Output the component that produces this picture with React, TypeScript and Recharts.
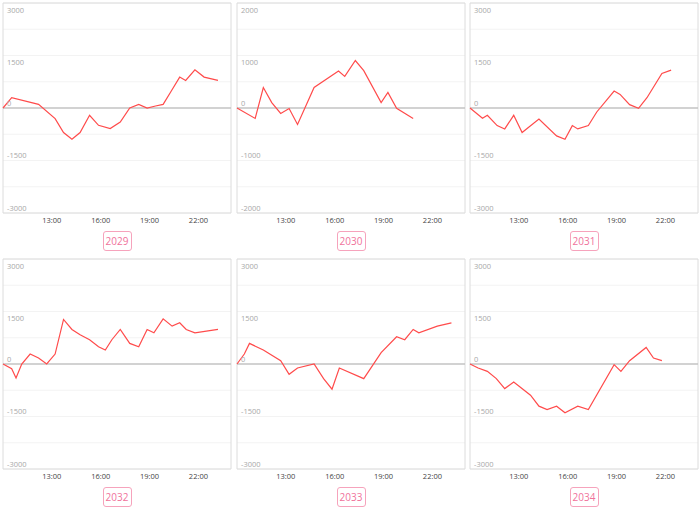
import {
    CartesianGrid,
    Line,
    LineChart,
    ReferenceArea,
    ReferenceLine,
    XAxis,
    YAxis,
} from "recharts";

// readings, one pair of arrays per year
const times2029 = ["10:00", "10:32", "12:11", "13:12", "13:43", "14:14", "14:44", "15:19", "15:52", "16:35", "17:12", "17:47", "18:20", "18:51", "19:22", "19:50", "20:20", "20:51", "21:13", "21:47", "22:21", "23:12"];
const values2029 = [0, 294, 104, -304, -702, -892, -702, -209, -494, -588, -399, 0, 104, 0, 57, 104, 484, 883, 788, 1092, 883, 788];

const times2030 = ["10:00", "11:07", "11:37", "12:08", "12:41", "13:12", "13:43", "14:44", "16:14", "16:37", "17:16", "17:47", "18:51", "19:16", "19:48", "20:49"];
const values2030 = [0, -199, 391, 103, -103, -10, -314, 391, 705, 603, 904, 711, 103, 295, -6, -199];

const times2031 = ["10:00", "10:46", "11:04", "11:40", "12:08", "12:41", "13:12", "14:14", "15:19", "15:50", "16:17", "16:37", "17:16", "17:47", "18:51", "19:13", "19:48", "20:21", "20:52", "21:47", "22:21"];
const values2031 = [0, -294, -209, -503, -598, -209, -702, -313, -797, -892, -503, -598, -503, -114, 484, 389, 95, -9, 294, 987, 1082];

const times2032 = ["10:00", "10:32", "10:48", "11:09", "11:40", "12:11", "12:41", "13:12", "13:43", "14:14", "14:44", "15:19", "15:52", "16:17", "16:41", "17:12", "17:47", "18:20", "18:51", "19:16", "19:50", "20:23", "20:51", "21:15", "21:47", "23:12"];
const values2032 = [0, -133, -399, 0, 285, 171, 0, 285, 1272, 987, 835, 693, 493, 399, 693, 987, 588, 493, 987, 892, 1291, 1082, 1177, 987, 892, 987];

const times2033 = ["10:00", "10:27", "10:46", "11:37", "12:41", "13:12", "13:43", "14:44", "15:19", "15:50", "16:17", "17:47", "18:51", "19:48", "20:18", "20:49", "21:10", "22:18", "23:10"];
const values2033 = [0, 285, 588, 399, 95, -294, -114, 0, -418, -721, -114, -418, 323, 778, 693, 987, 892, 1082, 1177];

const times2034 = ["10:00", "10:30", "11:04", "11:37", "12:08", "12:41", "13:43", "14:14", "14:44", "15:19", "15:50", "16:37", "17:16", "18:51", "19:16", "19:48", "20:49", "21:16", "21:47"];
const values2034 = [0, -114, -209, -418, -702, -512, -892, -1205, -1300, -1205, -1395, -1205, -1300, -19, -209, 95, 474, 171, 95];

const years = ["2029", "2030", "2031", "2032", "2033", "2034"];
const xTicks = [780, 960, 1140, 1320];

const toMinutes = (t: string) => {
    const [h, m] = t.split(":").map(Number);
    return h * 60 + m;
};
const fmtTime = (v: number) => `${Math.floor(v / 60)}:${String(v % 60).padStart(2, "0")}`;

const panels = [
    { times: times2029, values: values2029, extent: 3000, step: 750, labelStep: 1500 },
    { times: times2030, values: values2030, extent: 2000, step: 500, labelStep: 1000 },
    { times: times2031, values: values2031, extent: 3000, step: 750, labelStep: 1500 },
    { times: times2032, values: values2032, extent: 3000, step: 750, labelStep: 1500 },
    { times: times2033, values: values2033, extent: 3000, step: 750, labelStep: 1500 },
    { times: times2034, values: values2034, extent: 3000, step: 750, labelStep: 1500 },
].map((p, i) => {
    const yTicks: number[] = [];
    for (let v = p.extent; v >= -p.extent; v -= p.step) yTicks.push(v);
    return {
        ...p,
        year: years[i],
        yTicks,
        data: p.times.map((t, j) => ({ t: toMinutes(t), v: p.values[j] })),
    };
});

const colLeft = [3, 237, 470];
const rowTop = [3, 259];
const PLOT_W = 228;
const PLOT_H = 209;
const FONT = "'Open Sans', 'Noto Sans', sans-serif";

function Panel({ panel, left, top }: { panel: (typeof panels)[number]; left: number; top: number }) {
    const YTick = (props: any) => {
        const v = Number(props.payload.value);
        if (Math.abs(v) % panel.labelStep !== 0) return <g />;
        return (
            <text x={5} y={props.y + (v > 0 ? 9.5 : -2.5)} fontSize={7.5} fill="#a8a8a8" fontFamily={FONT}>
                {v}
            </text>
        );
    };
    const XTick = (props: any) => (
        <text x={props.x} y={220.5} textAnchor="middle" fontSize={7.5} fill="#444" fontFamily={FONT}>
            {fmtTime(props.payload.value)}
        </text>
    );
    return (
        <>
            <div style={{ position: "absolute", left: left - 1, top: top - 1 }}>
                <LineChart
                    width={PLOT_W + 2}
                    height={PLOT_H + 22}
                    data={panel.data}
                    margin={{ top: 1, right: 1, left: 1, bottom: 0 }}
                >
                    <CartesianGrid vertical={false} stroke="#f3f3f3" />
                    <ReferenceArea
                        x1={600}
                        x2={1440}
                        y1={-panel.extent}
                        y2={panel.extent}
                        fill="none"
                        stroke="#dcdcdc"
                        strokeWidth={1}
                    />
                    <XAxis
                        dataKey="t"
                        type="number"
                        domain={[600, 1440]}
                        ticks={xTicks}
                        height={20}
                        axisLine={false}
                        tickLine={false}
                        tick={XTick}
                        interval={0}
                    />
                    <YAxis
                        type="number"
                        domain={[-panel.extent, panel.extent]}
                        ticks={panel.yTicks}
                        width={30}
                        mirror
                        axisLine={false}
                        tickLine={false}
                        tick={YTick}
                        interval={0}
                    />
                    <ReferenceLine y={0} stroke="#c4c4c4" strokeWidth={1.5} />
                    <Line
                        type="linear"
                        dataKey="v"
                        stroke="#ff4b4b"
                        strokeWidth={1.2}
                        dot={false}
                        isAnimationActive={false}
                    />
                </LineChart>
            </div>
            <div
                style={{
                    position: "absolute",
                    left: left + PLOT_W / 2 - 14.5,
                    top: top + 228,
                    width: 29,
                    height: 20,
                    boxSizing: "border-box",
                    border: "1px solid #f6a3bc",
                    borderRadius: 3,
                    color: "#f0729b",
                    fontFamily: FONT,
                    fontSize: 10,
                    lineHeight: "18px",
                    textAlign: "center",
                }}
            >
                {panel.year}
            </div>
        </>
    );
}

export default function App() {
    return (
        <div style={{ position: "absolute", left: 0, top: 0, width: 700, height: 512, background: "#fff" }}>
            {panels.map((p, i) => (
                <Panel key={p.year} panel={p} left={colLeft[i % 3]} top={rowTop[Math.floor(i / 3)]} />
            ))}
        </div>
    );
}
